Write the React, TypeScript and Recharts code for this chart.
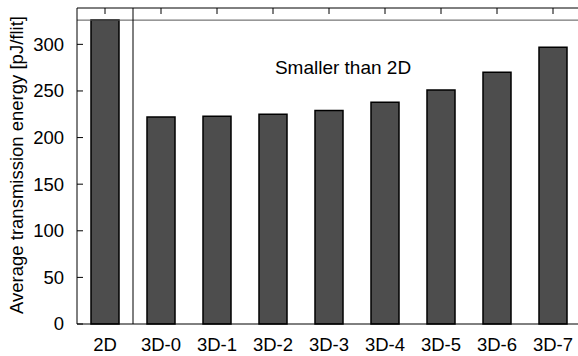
import {Bar, BarChart, ReferenceLine, XAxis, YAxis} from 'recharts';

const categories = ['2D', '3D-0', '3D-1', '3D-2', '3D-3', '3D-4', '3D-5', '3D-6', '3D-7'];
const energy = [326, 222, 223, 225, 229, 238, 251, 270, 297];
const yTicks = [0, 50, 100, 150, 200, 250, 300];
const baseline2D = 326;

const data = categories.map((name, i) => ({name, energy: energy[i]}));

const FONT = '"Liberation Sans", Arial, Helvetica, sans-serif';

const LeftTick = (props: any) => {
    const {x, y, payload} = props;
    return (
        <g>
            <line x1={x} y1={y} x2={x + 6} y2={y} stroke="#000"/>
            <text x={x - 13} y={y} dy="0.35em" textAnchor="end" fontSize={18.5} fontFamily={FONT} fill="#000">
                {payload.value}
            </text>
        </g>
    );
};

const RightTick = (props: any) => {
    const {x, y} = props;
    return <line x1={x - 6} y1={y} x2={x} y2={y} stroke="#000"/>;
};

const TopTick = (props: any) => {
    const {x, y} = props;
    return <line x1={x} y1={y} x2={x} y2={y + 6} stroke="#000"/>;
};

const App = () => {
    return (
        <div style={{position: 'absolute', left: 0, top: 0, width: 578, height: 356, overflow: 'hidden', background: '#fff'}}>
            <BarChart width={590} height={356} data={data} margin={{top: 0, right: 0, bottom: 0, left: 0}} barSize={28}>
                <XAxis xAxisId="bottom" dataKey="name" height={32} tickSize={0} tickMargin={14} tickLine={false}
                       axisLine={{stroke: '#000'}} interval={0}
                       tick={{fill: '#000', fontSize: 18.5, fontFamily: FONT}}/>
                <XAxis xAxisId="top" orientation="top" dataKey="name" height={8} tickSize={0} tickMargin={0}
                       tickLine={false} axisLine={{stroke: '#000'}} interval={0} tick={<TopTick/>}/>
                <YAxis yAxisId="left" width={77} domain={[0, 339]} ticks={yTicks} tickSize={0} tickMargin={0}
                       tickLine={false} axisLine={{stroke: '#000'}} tick={<LeftTick/>}/>
                <YAxis yAxisId="right" orientation="right" width={9} domain={[0, 339]} ticks={yTicks} tickSize={0}
                       tickMargin={0} tickLine={false} axisLine={{stroke: '#000'}} tick={<RightTick/>}/>
                <ReferenceLine xAxisId="bottom" yAxisId="left" y={baseline2D} stroke="#555" strokeWidth={1}/>
                <ReferenceLine xAxisId="bottom" yAxisId="left" x="2D" position="end" stroke="#000" strokeWidth={1}/>
                <Bar xAxisId="bottom" yAxisId="left" dataKey="energy" fill="#4d4d4d" stroke="#000" strokeWidth={1.5}
                     isAnimationActive={false}/>
            </BarChart>
            <div style={{position: 'absolute', left: 343, top: 57, transform: 'translateX(-50%)', whiteSpace: 'nowrap',
                fontFamily: FONT, fontSize: 19, lineHeight: '22px', color: '#000'}}>
                Smaller than 2D
            </div>
            <div style={{position: 'absolute', left: 17, top: 165, transform: 'translate(-50%, -50%) rotate(-90deg)',
                whiteSpace: 'nowrap', fontFamily: FONT, fontSize: 18.5, lineHeight: '20px', color: '#000'}}>
                Average transmission energy [pJ/flit]
            </div>
        </div>
    );
};

export default App;
